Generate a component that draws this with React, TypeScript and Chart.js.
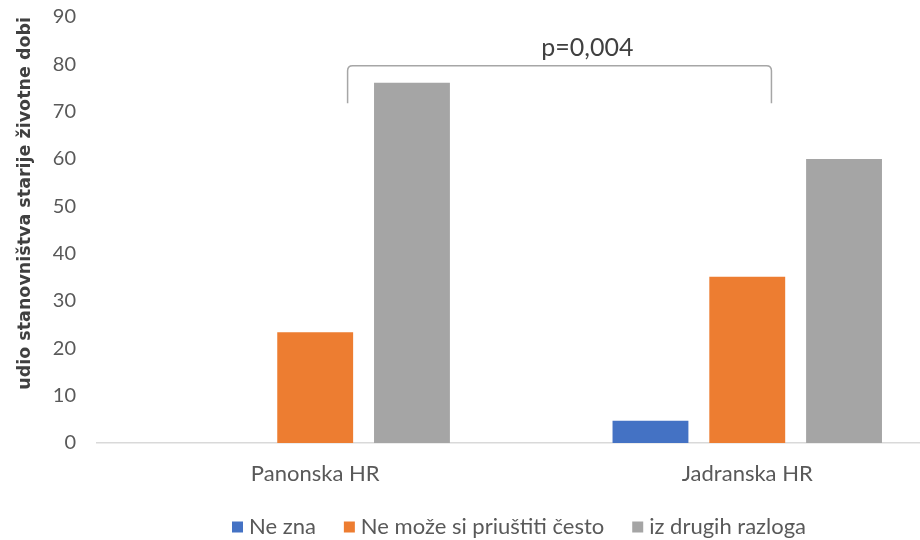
import React, { useEffect, useRef } from "react";
import { Chart, registerables } from "chart.js";

Chart.register(...registerables);

const categories = ["Panonska HR", "Jadranska HR"];
const seriesNames = ["Ne zna", "Ne može si priuštiti često", "iz drugih razloga"];
const neZna = [0, 4.7];
const neMoze = [23.4, 35.1];
const drugiRazlozi = [76.1, 60.0];
const seriesColors = ["#4472C4", "#ED7D31", "#A5A5A5"];
const yMin = 0;
const yMax = 90;
const yStep = 10;
const yTitle = "udio stanovništva starije životne dobi";
const pLabel = "p=0,004";
// significance bracket, in data units (x: category index, y: value)
const bracketX = [0.075, 1.056];
const bracketY = [79.7, 71.8];
const pLabelPos = [0.63, 83.5];

const FONT = "Lato";
const CANVAS_W = 946;
const CANVAS_H = 548;

const bracketPlugin = {
  id: "bracket",
  afterDatasetsDraw(chart: any) {
    const { ctx, scales } = chart;
    const x = scales.x;
    const y = scales.y;
    const xl = x.getPixelForValue(bracketX[0]);
    const xr = x.getPixelForValue(bracketX[1]);
    const yt = y.getPixelForValue(bracketY[0]);
    const yb = y.getPixelForValue(bracketY[1]);
    const r = 5;
    ctx.save();
    ctx.strokeStyle = "#a6a6a6";
    ctx.lineWidth = 1.5;
    ctx.beginPath();
    ctx.moveTo(xl, yb);
    ctx.lineTo(xl, yt + r);
    ctx.quadraticCurveTo(xl, yt, xl + r, yt);
    ctx.lineTo(xr - r, yt);
    ctx.quadraticCurveTo(xr, yt, xr, yt + r);
    ctx.lineTo(xr, yb);
    ctx.stroke();
    ctx.fillStyle = "#404040";
    ctx.font = `25px ${FONT}`;
    ctx.textAlign = "center";
    ctx.textBaseline = "middle";
    ctx.fillText(pLabel, x.getPixelForValue(pLabelPos[0]), y.getPixelForValue(pLabelPos[1]));
    ctx.restore();
  },
};

export default function App() {
  const ref = useRef<HTMLCanvasElement>(null);
  useEffect(() => {
    if (!ref.current) return;
    const series = [neZna, neMoze, drugiRazlozi];
    const chart = new Chart(ref.current, {
      type: "bar",
      data: {
        datasets: series.map((vals, s) => ({
          label: seriesNames[s],
          data: vals.map((v, i) => ({ x: i, y: v })),
          backgroundColor: seriesColors[s],
          borderWidth: 0,
          categoryPercentage: 0.672,
          barPercentage: 0.784,
        })),
      },
      options: {
        animation: false,
        responsive: false,
        devicePixelRatio: 1,
        layout: { padding: { top: 17, left: 0, right: 0, bottom: 0 } },
        scales: {
          x: {
            type: "linear",
            min: -0.505,
            max: 1.46,
            offset: false,
            grid: { display: false, drawTicks: false },
            border: { display: true, color: "#d9d9d9", width: 1.5 },
            afterBuildTicks: (s: any) => {
              s.ticks = categories.map((_, i) => ({ value: i }));
            },
            afterFit: (s: any) => {
              s.height = 40;
              s.paddingLeft = 0;
              s.paddingRight = 0;
            },
            ticks: {
              padding: 18,
              color: "#595959",
              font: { family: FONT, size: 22 },
              callback: (v: any) => categories[v as number] ?? "",
            },
          },
          y: {
            min: yMin,
            max: yMax,
            grid: { display: false, drawTicks: false },
            border: { display: false },
            afterFit: (s: any) => {
              s.width = 97;
              s.paddingTop = 0;
              s.paddingBottom = 0;
            },
            ticks: {
              stepSize: yStep,
              padding: 21,
              color: "#595959",
              font: { family: FONT, size: 20 },
            },
            title: {
              display: true,
              text: yTitle,
              align: "end",
              color: "#404040",
              padding: { top: 15, bottom: 0 },
              font: { family: "DejaVu Sans", size: 17.5, weight: "bold" },
            },
          },
        },
        plugins: {
          legend: {
            position: "bottom",
            fullSize: false,
            labels: {
              usePointStyle: true,
              pointStyle: "rect",
              boxWidth: 1,
              boxHeight: 11,
              padding: 33,
              color: "#595959",
              font: { family: FONT, size: 22 },
            },
          },
          tooltip: { enabled: false },
        },
      },
      plugins: [bracketPlugin],
    } as any);
    return () => chart.destroy();
  }, []);
  return (
    <div
      style={{
        position: "absolute",
        left: 0,
        top: 0,
        width: 920,
        height: 540,
        overflow: "hidden",
        background: "#fff",
      }}
    >
      <canvas ref={ref} width={CANVAS_W} height={CANVAS_H} style={{ display: "block" }} />
    </div>
  );
}
